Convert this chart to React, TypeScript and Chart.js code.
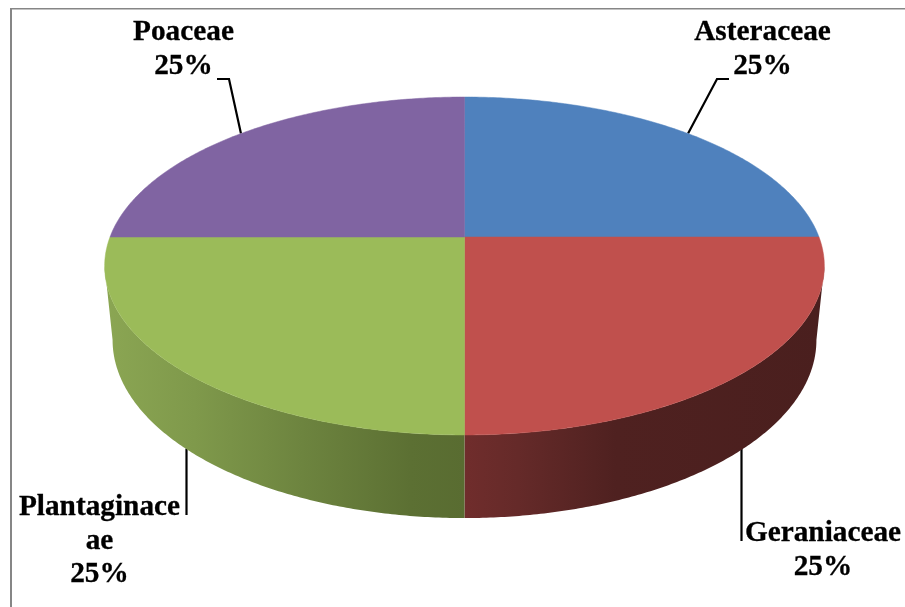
import { useEffect, useRef } from "react";
import { Chart, registerables } from "chart.js";

Chart.register(...registerables);

const categories = ["Asteraceae", "Geraniaceae", "Plantaginaceae", "Poaceae"];
const shares = [25, 25, 25, 25];
const sliceColors = ["#4f81bd", "#c0504d", "#9bbb59", "#8064a2"];

// Horizontal shading of the pie's side wall, as [offset, colour] stops per slice.
const wallShades: Record<number, [number, string][]> = {
  1: [[0, "#702d2c"], [0.15, "#652a29"], [0.42, "#4f2120"], [1, "#4a1f1e"]],
  2: [[0, "#8ba653"], [0.25, "#7f994b"], [0.55, "#6d843f"], [0.85, "#5c7033"], [1, "#596c31"]],
};

// Perspective model of the tilted disc: a point (u, v) on the unit circle lands at
// x = cx + sx * rx * u / (1 - tilt * v), y = cy + sy * ry * v / (1 - tilt * v).
const disc = { cx: 464.5, rx: 354.5, ry: 164, tilt: 0.1716 };
const topFace = { cy: 237, sx: 1, sy: 1 };
const baseFace = { cy: 309.5, sx: 0.978, sy: 1.0534 };

// Text layout per slice: label centre, first baseline and the elbow of its leader line.
const labelLayout = [
  { x: 762.5, y: 40, elbow: [[729, 79], [717, 79]], face: topFace },
  { x: 823, y: 541, elbow: [[741.5, 541]], face: baseFace },
  { x: 99.5, y: 515, elbow: [[186.5, 515]], face: baseFace },
  { x: 183.5, y: 40, elbow: [[217, 79], [229, 79]], face: topFace },
];
const lineHeight = 33.5;
const labelFont = 'bold 29.3px "Liberation Serif", serif';
const wrapWidth = 12;

type Face = { cy: number; sx: number; sy: number };

function project(angle: number, face: Face): [number, number] {
  const u = Math.cos(angle);
  const v = Math.sin(angle);
  const d = 1 - disc.tilt * v;
  return [disc.cx + (face.sx * disc.rx * u) / d, face.cy + (face.sy * disc.ry * v) / d];
}

function tracePoints(ctx: CanvasRenderingContext2D, pts: [number, number][]) {
  ctx.beginPath();
  pts.forEach(([x, y], i) => (i ? ctx.lineTo(x, y) : ctx.moveTo(x, y)));
  ctx.closePath();
}

function sweep(from: number, to: number, face: Face): [number, number][] {
  const steps = 160;
  const pts: [number, number][] = [];
  for (let i = 0; i <= steps; i++) pts.push(project(from + ((to - from) * i) / steps, face));
  return pts;
}

const perspectivePie = {
  id: "perspectivePie",
  beforeDatasetDraw(chart: any) {
    const ctx: CanvasRenderingContext2D = chart.ctx;
    const arcs = chart.getDatasetMeta(0).data;
    const total = shares.reduce((a, b) => a + b, 0);

    // Frame of the plot, running off the right and bottom of the canvas.
    ctx.save();
    ctx.strokeStyle = "#868686";
    ctx.lineWidth = 2;
    ctx.beginPath();
    ctx.moveTo(11, 700);
    ctx.lineTo(11, 8.75);
    ctx.stroke();
    ctx.lineWidth = 1.5;
    ctx.beginPath();
    ctx.moveTo(10, 8.75);
    ctx.lineTo(1000, 8.75);
    ctx.stroke();

    // Leader lines sit underneath the pie.
    ctx.strokeStyle = "#000";
    ctx.lineWidth = 2.2;
    ctx.lineJoin = "miter";
    arcs.forEach((arc: any, i: number) => {
      const mid = (arc.startAngle + arc.endAngle) / 2;
      const layout = labelLayout[i];
      const [ax, ay] = project(mid, layout.face);
      ctx.beginPath();
      layout.elbow.forEach(([x, y], k) => (k ? ctx.lineTo(x, y) : ctx.moveTo(x, y)));
      ctx.lineTo(layout.face === baseFace ? layout.elbow[0][0] : ax, ay);
      ctx.stroke();
    });

    // Side wall: only the part of the rim facing the viewer.
    const rimStart = Math.asin(disc.tilt);
    const rimEnd = Math.PI - rimStart;
    arcs.forEach((arc: any, i: number) => {
      const from = Math.max(arc.startAngle, rimStart);
      const to = Math.min(arc.endAngle, rimEnd);
      if (to <= from || !wallShades[i]) return;
      const pts = [...sweep(from, to, topFace), ...sweep(to, from, baseFace)];
      const xs = pts.map((p) => p[0]);
      const left = Math.min(...xs);
      const right = Math.max(...xs);
      const grad = ctx.createLinearGradient(left, 0, right, 0);
      const stops = i === 1 ? wallShades[i] : [...wallShades[i]];
      stops.forEach(([o, c]) => grad.addColorStop(o, c));
      tracePoints(ctx, pts);
      ctx.fillStyle = grad;
      ctx.fill();
    });

    // Top face of each slice, using the angles the pie controller computed.
    arcs.forEach((arc: any, i: number) => {
      const pts: [number, number][] = [[disc.cx, topFace.cy], ...sweep(arc.startAngle, arc.endAngle, topFace)];
      tracePoints(ctx, pts);
      ctx.fillStyle = sliceColors[i];
      ctx.strokeStyle = sliceColors[i];
      ctx.lineWidth = 0.5;
      ctx.fill();
      ctx.stroke();
    });

    // Category and percentage labels.
    ctx.fillStyle = "#000";
    ctx.strokeStyle = "#000";
    ctx.lineWidth = 0.3;
    ctx.font = labelFont;
    ctx.textAlign = "center";
    ctx.textBaseline = "alphabetic";
    categories.forEach((name, i) => {
      const wrapped = name.match(new RegExp(`.{1,${wrapWidth}}`, "g")) ?? [name];
      const lines = [...wrapped, `${Math.round((shares[i] / total) * 100)}%`];
      lines.forEach((line, k) => {
        const y = labelLayout[i].y + k * lineHeight;
        ctx.fillText(line, labelLayout[i].x, y);
        ctx.strokeText(line, labelLayout[i].x, y);
      });
    });
    ctx.restore();
    return false;
  },
};

export default function App() {
  const canvasRef = useRef<HTMLCanvasElement>(null);

  useEffect(() => {
    if (!canvasRef.current) return;
    const chart = new Chart(canvasRef.current, {
      type: "pie",
      data: {
        labels: categories,
        datasets: [{ data: shares, backgroundColor: sliceColors, borderWidth: 0 }],
      },
      options: {
        animation: false,
        responsive: false,
        events: [],
        plugins: { legend: { display: false }, tooltip: { enabled: false } },
      },
      plugins: [perspectivePie],
    });
    return () => chart.destroy();
  }, []);

  return (
    <canvas
      ref={canvasRef}
      width={905}
      height={607}
      style={{ position: "fixed", left: 0, top: 0, display: "block", background: "#fff" }}
    />
  );
}
